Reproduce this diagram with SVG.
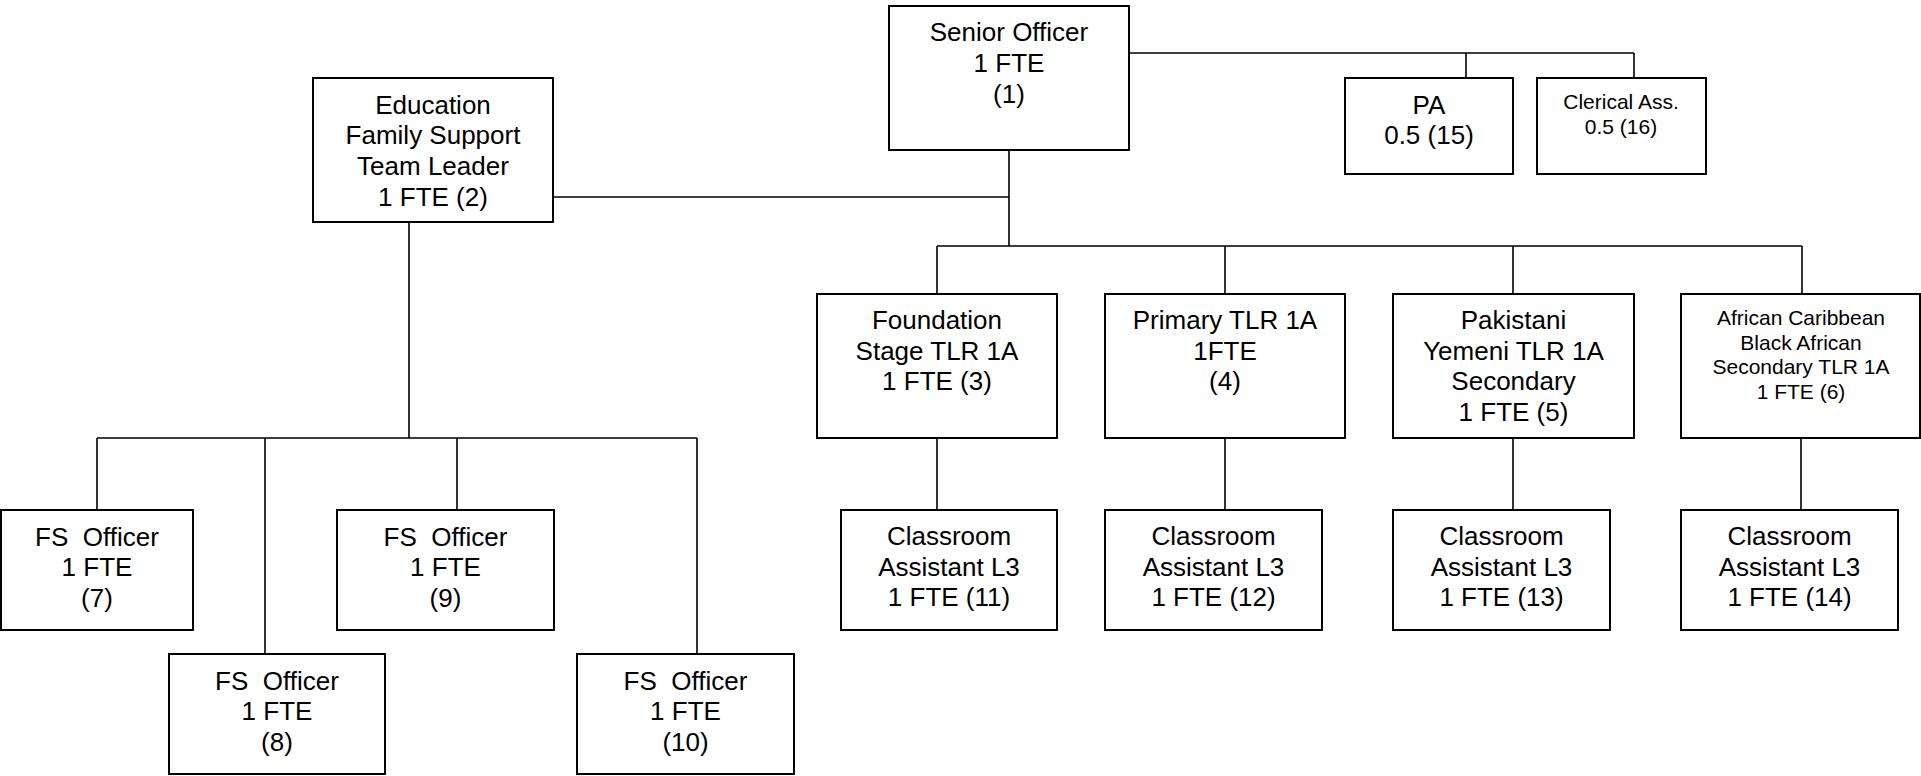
<svg xmlns="http://www.w3.org/2000/svg" width="1921" height="776" viewBox="0 0 1921 776">
<style>
.box{fill:#fff;stroke:#000;stroke-width:2}
.ln{fill:none;stroke:#000;stroke-width:1.6}
text{font-family:"Liberation Sans",Arial,sans-serif;font-size:26px;fill:#000;text-anchor:middle;white-space:pre}
text.s{font-size:21px}
</style>
<rect width="1921" height="776" fill="#fff"/>
<g id="connectors">
<path class="ln" d="M1129,53H1634M1466,53V78M1634,53V78"/>
<path class="ln" d="M1009,150V246M553,197H1009"/>
<path class="ln" d="M937,246H1802M937,246V294M1225,246V294M1513,246V294M1802,246V294"/>
<path class="ln" d="M937,438V510M1225,438V510M1513,438V510M1801,438V510"/>
<path class="ln" d="M409,222V438M97,438H697M97,438V510M265,438V654M457,438V510M697,438V654"/>
</g>
<g id="n1"><rect class="box" x="889" y="6" width="240" height="144"/><text x="1009" y="41">Senior Officer</text><text x="1009" y="72">1 FTE</text><text x="1009" y="103">(1)</text></g>
<g id="n2"><rect class="box" x="313" y="78" width="240" height="144"/><text x="433" y="114">Education</text><text x="433" y="144">Family Support</text><text x="433" y="175">Team Leader</text><text x="433" y="206">1 FTE (2)</text></g>
<g id="n15"><rect class="box" x="1345" y="78" width="168" height="96"/><text x="1429" y="114">PA</text><text x="1429" y="144">0.5 (15)</text></g>
<g id="n16"><rect class="box" x="1537" y="78" width="169" height="96"/><text class="s" x="1621" y="109">Clerical Ass.</text><text class="s" x="1621" y="134">0.5 (16)</text></g>
<g id="n3"><rect class="box" x="817" y="294" width="240" height="144"/><text x="937" y="329">Foundation</text><text x="937" y="359.5">Stage TLR 1A</text><text x="937" y="390">1 FTE (3)</text></g>
<g id="n4"><rect class="box" x="1105" y="294" width="240" height="144"/><text x="1225" y="329">Primary TLR 1A</text><text x="1225" y="359.5">1FTE</text><text x="1225" y="390">(4)</text></g>
<g id="n5"><rect class="box" x="1393" y="294" width="241" height="144"/><text x="1513.5" y="329">Pakistani</text><text x="1513.5" y="359.5">Yemeni TLR 1A</text><text x="1513.5" y="390">Secondary</text><text x="1513.5" y="420.5">1 FTE (5)</text></g>
<g id="n6"><rect class="box" x="1681" y="294" width="239" height="144"/><text class="s" x="1801" y="325">African Caribbean</text><text class="s" x="1801" y="349.5">Black African</text><text class="s" x="1801" y="373.5">Secondary TLR 1A</text><text class="s" x="1801" y="398.5">1 FTE (6)</text></g>
<g id="n11"><rect class="box" x="841" y="510" width="216" height="120"/><text x="949" y="545">Classroom</text><text x="949" y="575.5">Assistant L3</text><text x="949" y="606">1 FTE (11)</text></g>
<g id="n12"><rect class="box" x="1105" y="510" width="217" height="120"/><text x="1213.5" y="545">Classroom</text><text x="1213.5" y="575.5">Assistant L3</text><text x="1213.5" y="606">1 FTE (12)</text></g>
<g id="n13"><rect class="box" x="1393" y="510" width="217" height="120"/><text x="1501.5" y="545">Classroom</text><text x="1501.5" y="575.5">Assistant L3</text><text x="1501.5" y="606">1 FTE (13)</text></g>
<g id="n14"><rect class="box" x="1681" y="510" width="217" height="120"/><text x="1789.5" y="545">Classroom</text><text x="1789.5" y="575.5">Assistant L3</text><text x="1789.5" y="606">1 FTE (14)</text></g>
<g id="n7"><rect class="box" x="1" y="510" width="192" height="120"/><text x="97" y="545.5" xml:space="preserve">FS  Officer</text><text x="97" y="576">1 FTE</text><text x="97" y="606.5">(7)</text></g>
<g id="n9"><rect class="box" x="337" y="510" width="217" height="120"/><text x="445.5" y="545.5" xml:space="preserve">FS  Officer</text><text x="445.5" y="576">1 FTE</text><text x="445.5" y="606.5">(9)</text></g>
<g id="n8"><rect class="box" x="169" y="654" width="216" height="120"/><text x="277" y="689.5" xml:space="preserve">FS  Officer</text><text x="277" y="720">1 FTE</text><text x="277" y="750.5">(8)</text></g>
<g id="n10"><rect class="box" x="577" y="654" width="217" height="120"/><text x="685.5" y="689.5" xml:space="preserve">FS  Officer</text><text x="685.5" y="720">1 FTE</text><text x="685.5" y="750.5">(10)</text></g>
</svg>
